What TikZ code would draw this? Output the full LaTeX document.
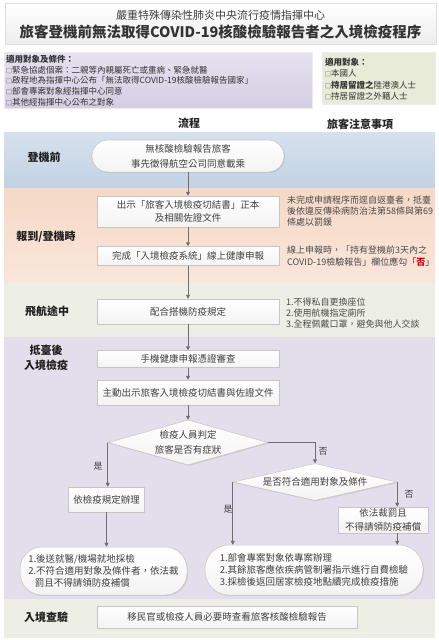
\documentclass[tikz,border=0pt]{standalone}
\usepackage{fontspec}
\setmainfont{Noto Sans CJK TC}
\usetikzlibrary{shadows,arrows.meta,shapes.geometric}
\newcommand{\fsz}[2]{\fontsize{#1}{#2}\selectfont}
\newcommand{\smallsq}{{\fontsize{6}{6}\selectfont □}}
\definecolor{bandblueT}{HTML}{D6E1ED}
\definecolor{bandblueB}{HTML}{C2D2E4}
\definecolor{bandpeachT}{HTML}{F6D9C7}
\definecolor{bandpeachB}{HTML}{F9E6DA}
\definecolor{bandgreen}{HTML}{EEEFE4}
\definecolor{bandlav}{HTML}{E2DEEC}
\definecolor{condlavT}{HTML}{E6E2EF}
\definecolor{condlavB}{HTML}{D4CEE3}
\definecolor{condgreen}{HTML}{E8EBD8}
\definecolor{txt}{HTML}{404040}
\definecolor{notetxt}{HTML}{4A4A4A}
\definecolor{arrowc}{HTML}{6E6E6E}
\definecolor{boxline}{HTML}{C6C6C6}
\definecolor{redtxt}{HTML}{C00000}
\tikzset{
  shd/.style={drop shadow={shadow xshift=0.9pt,shadow yshift=-0.9pt,opacity=0.22}},
  procbox/.style={draw=boxline,line width=0.5pt,top color=white,bottom color=gray!9,shd,
    text=txt,align=center,inner sep=0pt,font={\fsz{9.5}{13}}},
  termbox/.style={procbox,rounded corners=#1},
  decbox/.style={diamond,draw=boxline,line width=0.5pt,top color=white,bottom color=gray!9,shd,
    text=txt,align=center,inner sep=0pt,font={\fsz{9.5}{15}}},
  arr/.style={draw=arrowc,line width=0.7pt,-{Triangle[width=4pt,length=4pt]}},
  bandlabel/.style={font={\bfseries\fsz{11}{15}},text=black!88,align=center},
  notestyle/.style={anchor=west,align=left,text=notetxt,inner sep=0pt},
  yesno/.style={font={\fsz{9}{11}},text=txt,inner sep=0pt},
}
\begin{document}
\begin{tikzpicture}[x=1pt,y=-1pt]
\useasboundingbox[fill=white] (0,0) rectangle (439,640);
% title
\node[draw=gray!25,top color=white,bottom color=gray!14,shd,minimum width=431,minimum height=41,inner sep=0pt] (title) at (220.5,23.5) {};
\node[font={\fsz{11}{13}},text=black!75] (title1) at (220.5,15) {嚴重特殊傳染性肺炎中央流行疫情指揮中心};
\node[font={\bfseries\fsz{14.5}{16}},text=black!80] (title2) at (220.5,31.5) {旅客登機前無法取得COVID-19核酸檢驗報告者之入境檢疫程序};
% condition boxes
\node[draw=gray!15,top color=condlavT,bottom color=condlavB,minimum width=308,minimum height=56,inner sep=0pt] (cond) at (158,80) {};
\node[notestyle,text=black!80,font={\fsz{8.5}{10.75}}] (condtxt) at (6,80.5)
 {\textbf{適用對象及條件：}\\\smallsq 緊急協處個案：二親等內親屬死亡或重病、緊急就醫\\\smallsq 啟程地為指揮中心公布「無法取得COVID-19核酸檢驗報告國家」\\\smallsq 部會專案對象經指揮中心同意\\\smallsq 其他經指揮中心公布之對象};
\node[draw=gray!15,fill=condgreen,minimum width=113,minimum height=52,inner sep=0pt] (who) at (378.5,78) {};
\node[notestyle,text=black!80,font={\fsz{8.5}{11.3}}] (whotxt) at (325,79)
 {\textbf{適用對象：}\\\smallsq 本國人\\\smallsq\textbf{持居留證之}陸港澳人士\\\smallsq 持居留證之外籍人士};
% headers
\node[font={\bfseries\fsz{11}{13}},text=black!85] (h1) at (189,123) {流程};
\node[font={\bfseries\fsz{11}{13}},text=black!85] (h2) at (360,124) {旅客注意事項};
% bands
\path[top color=bandblueT,bottom color=bandblueB] (4,132) rectangle (435,188);
\path[top color=bandpeachT,bottom color=bandpeachB] (4,188) rectangle (435,283);
\path[fill=bandgreen] (4,283) rectangle (435,337);
\path[fill=bandlav] (4,337) rectangle (435,599);
\path[fill=bandgreen] (4,599) rectangle (435,638);
% band labels
\node[bandlabel] (L1) at (44,157) {登機前};
\node[bandlabel] (L2) at (46,237) {報到/登機時};
\node[bandlabel] (L3) at (47,311) {飛航途中};
\node[bandlabel] (L4) at (46,357.5) {抵臺後\\入境檢疫};
\node[bandlabel] (L5) at (46,617) {入境查驗};
% process
\node[termbox=16pt,minimum width=192,minimum height=32,font={\fsz{9.5}{15}}] (t1) at (188,156) {無核酸檢驗報告旅客\\事先徵得航空公司同意載乘};
\node[procbox,minimum width=182,minimum height=31] (b1) at (188,211.5) {出示「旅客入境檢疫切結書」正本\\及相關佐證文件};
\node[procbox,minimum width=182,minimum height=19] (b2) at (188,256) {完成「入境檢疫系統」線上健康申報};
\node[procbox,minimum width=182,minimum height=25] (b3) at (188,311.5) {配合搭機防疫規定};
\node[procbox,minimum width=182,minimum height=17] (b4) at (188,359) {手機健康申報憑證審查};
\node[procbox,minimum width=182,minimum height=25] (b5) at (188,392.5) {主動出示旅客入境檢疫切結書與佐證文件};
\node[decbox,minimum width=160,minimum height=45,aspect=3.5] (d1) at (188,442.5) {檢疫人員判定\\旅客是否有症狀};
\node[procbox,minimum width=76,minimum height=25] (q1) at (106.5,499.5) {依檢疫規定辦理};
\node[decbox,minimum width=164,minimum height=37,aspect=4.5] (d2) at (315,482) {是否符合適用對象及條件};
\node[procbox,minimum width=90,minimum height=26,font={\fsz{9.5}{14}}] (pen) at (383,520) {依法裁罰且\\不得請領防疫補償};
\node[termbox=22pt,minimum width=167,minimum height=48,align=left,font={\fsz{9.5}{12}}] (r1) at (103.5,571) {1.後送就醫/機場就地採檢\\2.不符合適用對象及條件者，依法裁\\\hspace*{0.7em}罰且不得請領防疫補償};
\node[termbox=24pt,minimum width=218,minimum height=50,align=left,font={\fsz{9.5}{12}}] (r2) at (314,570) {1.部會專案對象依專案辦理\\2.其餘旅客應依疾病管制署指示進行自費檢驗\\3.採檢後返回居家檢疫地點續完成檢疫措施};
\node[procbox,minimum width=260,minimum height=22] (b6) at (227,617) {移民官或檢疫人員必要時查看旅客核酸檢驗報告};
% notes
\node[notestyle,font={\fsz{9}{11}}] (n1) at (287,211) {未完成申請程序而逕自返臺者，抵臺\\後依違反傳染病防治法第58條與第69\\條處以罰鍰};
\node[notestyle,font={\fsz{9}{12}}] (n2) at (287,256) {線上申報時，「持有登機前3天內之\\COVID-19檢驗報告」欄位應勾{\color{redtxt}「\textbf{否}」}};
\node[notestyle,font={\fsz{9}{11}}] (n3) at (286,313) {1.不得私自更換座位\\2.使用航機指定廁所\\3.全程佩戴口罩，避免與他人交談};
% connectors
\draw[arr] (t1.south) -- (b1.north);
\draw[arr] (b1.south) -- (b2.north);
\draw[arr] (b2.south) -- (b3.north);
\draw[arr] (b3.south) -- (b4.north);
\draw[arr] (b4.south) -- (b5.north);
\draw[arr] (b5.south) -- (d1.north);
\draw[arr] (d1.west) -- (d1.west |- q1.north);
\draw[arr] (q1.south) -- (q1.south |- r1.north);
\draw[arr] (d1.east) -| (d2.north);
\draw[arr] (d2.west) -- (d2.west |- r2.north);
\draw[arr] (d2.east) -- (d2.east |- pen.north);
\draw[arr] (pen.south -| d2.east) -- (d2.east |- r2.north);
% yes/no labels
\node[yesno] (y1) at (98,466) {是};
\node[yesno] (n1l) at (323,451) {否};
\node[yesno] (y2) at (228,509) {是};
\node[yesno] (n2l) at (409,494) {否};
\end{tikzpicture}
\end{document}
